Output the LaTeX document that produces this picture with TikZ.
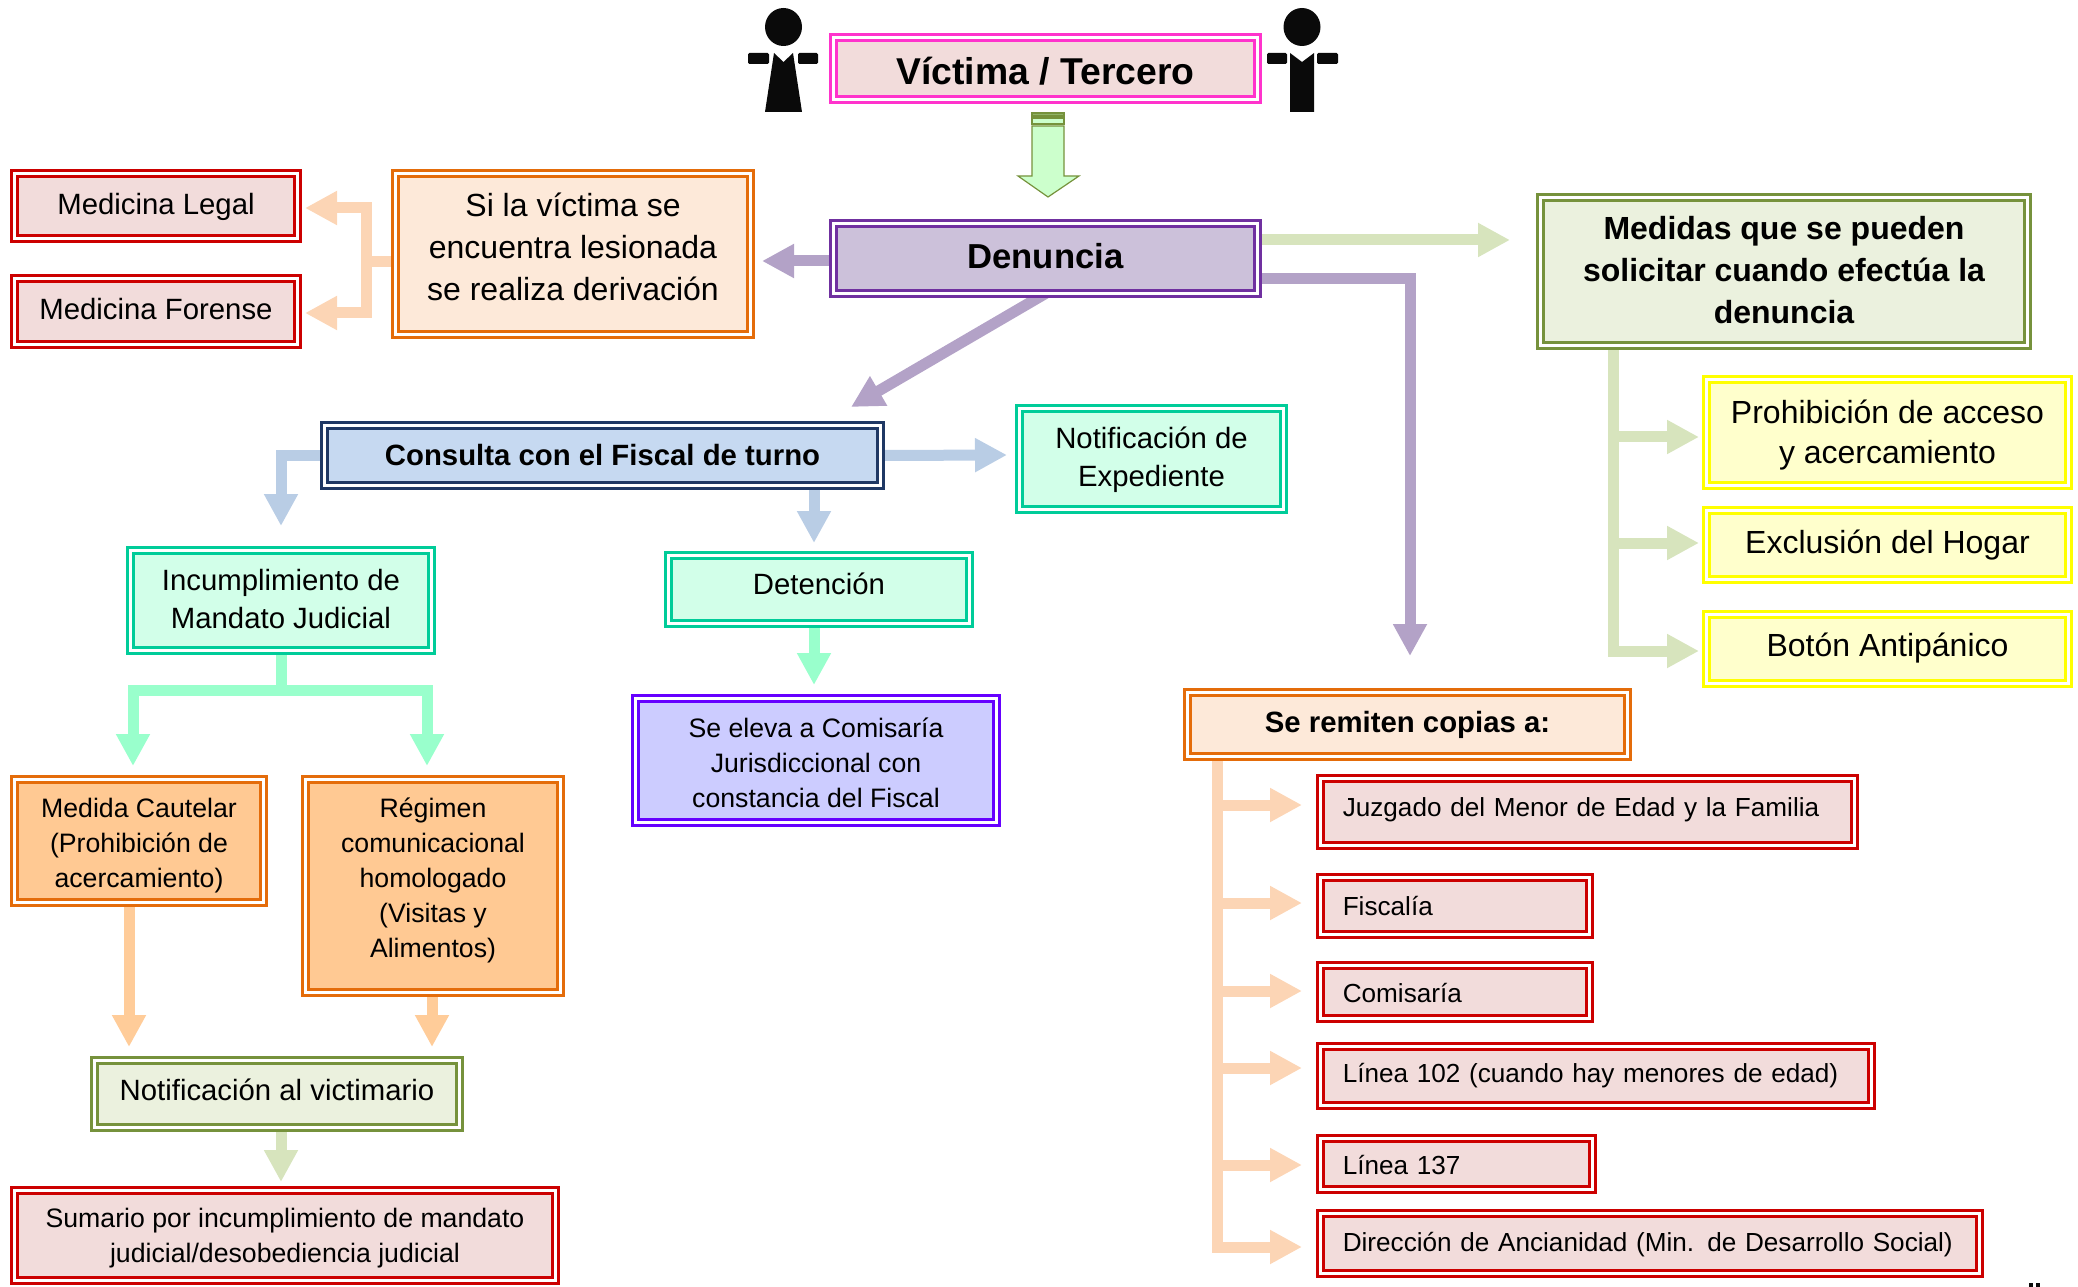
\documentclass[tikz,border=0pt]{standalone}
\usepackage{fontspec}
\setmainfont{Liberation Sans}
\usetikzlibrary{arrows.meta,backgrounds}
\definecolor{cPink}{HTML}{FF33CC}
\definecolor{cRose}{HTML}{F2DCDB}
\definecolor{cPurple}{HTML}{7030A0}
\definecolor{cLilac}{HTML}{CCC1DA}
\definecolor{cRed}{HTML}{CC0000}
\definecolor{cOrange}{HTML}{E46C0A}
\definecolor{cCream}{HTML}{FDE9D9}
\definecolor{cNavy}{HTML}{1F3864}
\definecolor{cSky}{HTML}{C6D9F1}
\definecolor{cMint}{HTML}{00CC99}
\definecolor{cMintF}{HTML}{D2FFE9}
\definecolor{cViolet}{HTML}{6600FF}
\definecolor{cPeri}{HTML}{CCCCFF}
\definecolor{cApricot}{HTML}{FFC993}
\definecolor{cOlive}{HTML}{76923C}
\definecolor{cOliveF}{HTML}{EBF1DE}
\definecolor{cYellow}{HTML}{FFFF00}
\definecolor{cYellowF}{HTML}{FFFFCC}
\definecolor{aPeach}{HTML}{FCD5B5}
\definecolor{aPurple}{HTML}{B3A2C7}
\definecolor{aGreen}{HTML}{D7E4BD}
\definecolor{aBlue}{HTML}{B9CDE5}
\definecolor{aMint}{HTML}{99FFCC}
\definecolor{aOrange}{HTML}{FFCC99}
\definecolor{aLime}{HTML}{CCFFCC}
\definecolor{cInk}{HTML}{0A0A0A}
\tikzset{
  x=.75pt,y=-.75pt,
  box/.style={draw,line width=2.25pt,double=white,double distance=2.25pt,inner sep=0pt,outer sep=0pt,align=center,text=black},
  fPink/.style={draw=cPink,fill=cRose},
  fPurple/.style={draw=cPurple,fill=cLilac},
  fRed/.style={draw=cRed,fill=cRose},
  fOrange/.style={draw=cOrange,fill=cCream},
  fNavy/.style={draw=cNavy,fill=cSky},
  fMint/.style={draw=cMint,fill=cMintF},
  fViolet/.style={draw=cViolet,fill=cPeri},
  fApricot/.style={draw=cOrange,fill=cApricot},
  fOlive/.style={draw=cOlive,fill=cOliveF},
  fYellow/.style={draw=cYellow,fill=cYellowF},
  big/.style={font=\fontsize{24pt}{31.5pt}\selectfont},
  bigb/.style={font=\fontsize{24pt}{31.5pt}\selectfont\bfseries},
  yel/.style={font=\fontsize{24pt}{30pt}\selectfont},
  mid/.style={font=\fontsize{22pt}{28.5pt}\selectfont},
  midb/.style={font=\fontsize{22pt}{28.5pt}\selectfont\bfseries},
  small/.style={font=\fontsize{20pt}{26.25pt}\selectfont},
  lst/.style={font=\fontsize{19.6pt}{26pt}\selectfont},
  arr/.style={line width=8.25pt,line join=miter,-{Triangle[length=24pt,width=24pt]}},
  line/.style={line width=8.25pt,line join=miter},
  person/.style={fill=cInk,draw=none}
}
\newcommand\up[2]{\raisebox{#1}[\height][\depth]{#2}}
\newcommand\rl[2]{\up{#1}{\begin{tabular}{@{}c@{}}#2\end{tabular}}}
\newcommand\bx[7]{%
  \pgfmathsetmacro\bw{(#5-#3-9)*.75}\pgfmathsetmacro\bh{(#6-#4-9)*.75}%
  \node[box,#1,minimum width=\bw pt,minimum height=\bh pt] (#2) at ({(#3+#5)/2},{(#4+#6)/2}) {#7};}
\newcommand\bxl[7]{%
  \pgfmathsetmacro\bw{(#5-#3-9)*.75-16.7}\pgfmathsetmacro\bh{(#6-#4-9)*.75}%
  \node[box,#1,align=left,inner xsep=16.7pt,text width=\bw pt-16.7pt,minimum height=\bh pt] (#2) at ({(#3+#5)/2},{(#4+#6)/2}) {#7};}
\begin{document}
\begin{tikzpicture}
\useasboundingbox (0,0) rectangle (2078,1287);
% boxes
\bx{fPink,font=\fontsize{28pt}{34pt}\selectfont\bfseries}{vic}{829}{33}{1262}{104}{\up{-2pt}{Víctima / Tercero}}
\bx{fPurple,font=\fontsize{26pt}{34pt}\selectfont\bfseries}{den}{829}{219}{1262}{298}{\up{2pt}{Denuncia}}
\bx{fRed,mid}{mleg}{10}{169}{302}{243}{\up{-1pt}{Medicina Legal}}
\bx{fRed,mid}{mfor}{10}{274}{302}{349}{\up{2pt}{Medicina Forense}}
\bx{fOrange,big}{deriv}{391}{169}{755}{339}{\rl{3pt}{Si la víctima se\\encuentra lesionada\\se realiza derivación}}
\bx{fOlive,bigb}{med}{1536}{193}{2032}{350}{\rl{-1.5pt}{Medidas que se pueden\\solicitar cuando efectúa la\\denuncia}}
\bx{fYellow,yel}{pro}{1702}{375}{2073}{490}{\rl{-2pt}{Prohibición de acceso\\y acercamiento}}
\bx{fYellow,big}{exc}{1702}{506}{2073}{584}{Exclusión del Hogar}
\bx{fYellow,big}{bot}{1702}{610}{2073}{688}{\up{1pt}{Botón Antipánico}}
\bx{fNavy,midb}{con}{320}{421}{885}{490}{Consulta con el Fiscal de turno}
\bx{fMint,mid}{not}{1015}{404}{1288}{514}{\rl{-.5pt}{Notificación de\\Expediente}}
\bx{fMint,mid}{inc}{126}{546}{436}{655}{\rl{-1pt}{Incumplimiento de\\Mandato Judicial}}
\bx{fMint,mid}{det}{664}{551}{974}{628}{\up{4pt}{Detención}}
\bx{fViolet,small}{ele}{631}{694}{1001}{827}{\rl{-4pt}{Se eleva a Comisaría\\Jurisdiccional con\\constancia del Fiscal}}
\bx{fApricot,small}{cau}{10}{775}{268}{907}{\rl{-3pt}{Medida Cautelar\\(Prohibición de\\acercamiento)}}
\bx{fApricot,small}{reg}{301}{775}{565}{997}{\rl{4.5pt}{Régimen\\comunicacional\\homologado\\(Visitas y\\Alimentos)}}
\bx{fOlive,mid}{vict}{90}{1056}{464}{1132}{\up{3pt}{Notificación al victimario}}
\bx{fRed,small}{sum}{10}{1186}{560}{1285}{\rl{-2pt}{Sumario por incumplimiento de mandato\\judicial/desobediencia judicial}}
\bx{fOrange,midb}{rem}{1183}{688}{1632}{761}{Se remiten copias a:}
\bxl{fRed,lst}{juz}{1316}{774}{1859}{850}{\up{2pt}{Juzgado del Menor de Edad y la Familia}}
\bxl{fRed,lst}{fis}{1316}{873}{1594}{939}{Fiscalía}
\bxl{fRed,lst}{com}{1316}{961}{1594}{1023}{\up{-1pt}{Comisaría}}
\bxl{fRed,lst}{l102}{1316}{1042}{1876}{1110}{Línea 102 (cuando hay menores de edad)}
\bxl{fRed,lst}{l137}{1316}{1134}{1597}{1194}{\up{-1pt}{Línea 137}}
\bxl{fRed,lst}{dir}{1316}{1209}{1984}{1278}{\up{-1pt}{Dirección de Ancianidad (Min. de Desarrollo Social)}}
% free ends
\coordinate (tLeg) at (305,208);
\coordinate (tFor) at (305,313);
\coordinate (tDer) at (762,261);
\coordinate (tMed) at (1510,240);
\coordinate (tRem) at (1410,656);
\coordinate (kRem) at (1410,279);
\coordinate (tCon) at (851,407);
\coordinate (tInc) at (281,526);
\coordinate (tNot) at (1007,455);
\coordinate (tDet) at (814,543);
\coordinate (tEle) at (814,685);
\coordinate (jInc) at (281,690);
\coordinate (tCau) at (133,766);
\coordinate (tReg) at (427,766);
\coordinate (tVic1) at (129,1047);
\coordinate (tVic2) at (432,1047);
\coordinate (tSum) at (281,1182);
\coordinate (jDer) at (366,262);
\coordinate (tPro) at (1699,437);
\coordinate (tExc) at (1699,543);
\coordinate (tBot) at (1699,651);
\coordinate (trM) at (1613,350);
\coordinate (trR) at (1217,761);
\coordinate (bJuz) at (1302,805);
\coordinate (bFis) at (1302,903);
\coordinate (bCom) at (1302,991);
\coordinate (bL102) at (1302,1068);
\coordinate (bL137) at (1302,1165);
\coordinate (bDir) at (1302,1247);
\begin{scope}[on background layer]
\draw[line,aPeach] (deriv.west |- jDer) -- (jDer);
\draw[arr,aPeach] (jDer) |- (tLeg);
\draw[arr,aPeach] (jDer) |- (tFor);
\draw[arr,aPurple] (den.west |- tDer) -- (tDer);
\draw[arr,aGreen] (den.east |- tMed) -- (tMed);
\draw[arr,aPurple] (den.east |- kRem) -- (kRem) -- (tRem);
\draw[arr,aPurple] (den.south) -- (tCon);
\draw[arr,aBlue] (con.west) -| (tInc);
\draw[arr,aBlue] (con.east) -- (tNot);
\draw[arr,aBlue] (con.south -| tDet) -- (tDet);
\draw[arr,aMint] (det.south -| tEle) -- (tEle);
\draw[line,aMint] (inc.south) -- (jInc);
\draw[arr,aMint] (jInc) -| (tCau);
\draw[arr,aMint] (jInc) -| (tReg);
\draw[arr,aOrange] (cau.south -| tVic1) -- (tVic1);
\draw[arr,aOrange] (reg.south -| tVic2) -- (tVic2);
\draw[arr,aGreen] (vict.south -| tSum) -- (tSum);
\draw[arr,aGreen] (med.south -| trM) |- (tPro);
\draw[arr,aGreen] (trM) |- (tExc);
\draw[arr,aGreen] (trM) |- (tBot);
\draw[arr,aPeach] (rem.south -| trR) |- (bJuz);
\draw[arr,aPeach] (trR) |- (bFis);
\draw[arr,aPeach] (trR) |- (bCom);
\draw[arr,aPeach] (trR) |- (bL102);
\draw[arr,aPeach] (trR) |- (bL137);
\draw[arr,aPeach] (trR) |- (bDir);
\end{scope}
% down arrow from Victima to Denuncia
\filldraw[fill=aLime,draw=cOlive,line width=.9pt] (1032,126) -- (1064,126) -- (1064,176) -- (1079,176) -- (1048,197) -- (1018,176) -- (1032,176) -- cycle;
\filldraw[fill=aLime,draw=cOlive,line width=.9pt] (1032,118) rectangle (1064,124);
\filldraw[fill=cOlive!70!aLime,draw=cOlive,line width=.9pt] (1032,113) rectangle (1064,116);
% persons
\fill[person] (783.5,27) ellipse [x radius=18.5,y radius=19];
\fill[person,rounded corners=1pt] (748,53) rectangle (769,64);
\fill[person,rounded corners=1pt] (798,53) rectangle (818,64);
\fill[person] (774,53) -- (783.5,62) -- (793,53) -- (802,112) -- (765,112) -- cycle;
\fill[person] (1302,27) ellipse [x radius=18.5,y radius=19];
\fill[person,rounded corners=1pt] (1267,53) rectangle (1287,64);
\fill[person,rounded corners=1pt] (1317,53) rectangle (1338,64);
\fill[person] (1290,53) -- (1302,62) -- (1314,53) -- (1314,112) -- (1290,112) -- cycle;
% cropped mark at the lower edge
\fill[cInk] (2029,1283) rectangle (2033,1287);
\fill[cInk] (2036,1283) rectangle (2040,1287);
\end{tikzpicture}
\end{document}
